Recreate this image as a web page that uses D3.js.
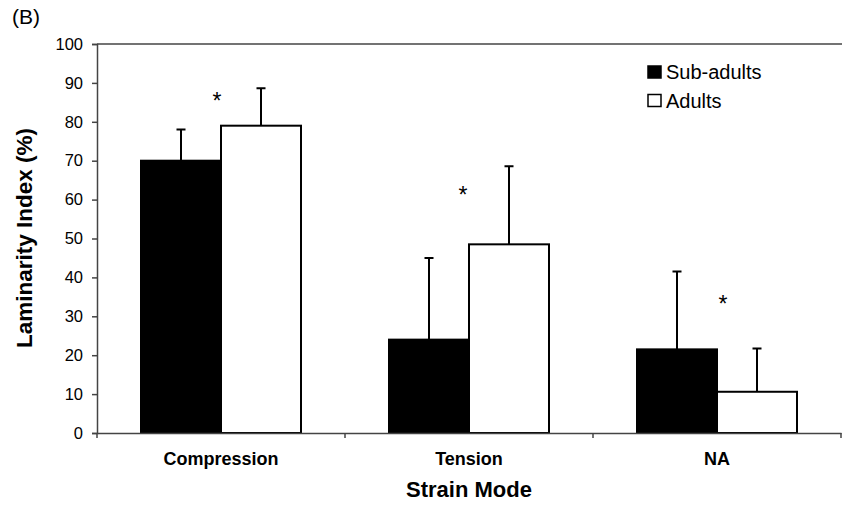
<!DOCTYPE html>
<html>
<head>
<meta charset="utf-8">
<script src="https://cdn.jsdelivr.net/npm/d3@7"></script>
<style>
  body { margin: 0; background: #fff; }
  svg { font-family: "Liberation Sans", Arial, sans-serif; display: block; }
</style>
</head>
<body>
<svg id="chart"></svg>
<script>
// data
var categories = ["Compression", "Tension", "NA"];
var seriesNames = ["Sub-adults", "Adults"];
var subAdults = [70, 24, 21.5];
var subAdultsErr = [78, 45, 41.5];
var adults = [79, 48.5, 10.6];
var adultsErr = [88.6, 68.6, 21.7];
var starLevel = [86, 62, 34];
var yTicks = [0, 10, 20, 30, 40, 50, 60, 70, 80, 90, 100];

var W = 842, H = 506;
var margin = {top: 44, right: 1, bottom: 73, left: 97},
    width = W - margin.left - margin.right,
    height = H - margin.top - margin.bottom;

var svg = d3.select("#chart")
    .attr("width", W)
    .attr("height", H);

var chart = svg.append("g")
    .attr("transform", "translate(" + margin.left + "," + margin.top + ")");

var x = d3.scaleBand()
    .domain(categories)
    .range([0, width])
    .paddingInner(0)
    .paddingOuter(0);

var inner = d3.scaleBand()
    .domain(seriesNames)
    .range([44, x.bandwidth() - 44]);

var y = d3.scaleLinear()
    .domain([0, 100])
    .range([height, 0]);

var rows = categories.map(function(c, i) {
  return {
    cat: c,
    star: starLevel[i],
    bars: [
      {s: "Sub-adults", v: subAdults[i], e: subAdultsErr[i], fill: "#000"},
      {s: "Adults", v: adults[i], e: adultsErr[i], fill: "#fff"}
    ]
  };
});

// top border
chart.append("line")
    .attr("x1", 0).attr("x2", width + 1)
    .attr("y1", 0).attr("y2", 0)
    .attr("stroke", "#444").attr("stroke-width", 1.5);

var groups = chart.selectAll(".grp")
    .data(rows)
  .enter().append("g")
    .attr("class", "grp")
    .attr("transform", function(d) { return "translate(" + x(d.cat) + ",0)"; });

// error bars (drawn before bars so the stem starts at bar top)
groups.selectAll(".err")
    .data(function(d) { return d.bars; })
  .enter().append("path")
    .attr("class", "err")
    .attr("fill", "none")
    .attr("stroke", "#000")
    .attr("stroke-width", 2)
    .attr("d", function(d) {
      var cx = inner(d.s) + inner.bandwidth() / 2;
      return "M" + cx + "," + y(d.v) + "V" + y(d.e) +
             "M" + (cx - 4.5) + "," + y(d.e) + "H" + (cx + 4.5);
    });

groups.selectAll(".bar")
    .data(function(d) { return d.bars; })
  .enter().append("rect")
    .attr("class", "bar")
    .attr("x", function(d) { return inner(d.s); })
    .attr("width", inner.bandwidth())
    .attr("y", function(d) { return y(d.v); })
    .attr("height", function(d) { return height - y(d.v); })
    .attr("fill", function(d) { return d.fill; })
    .attr("stroke", "#000")
    .attr("stroke-width", 2);

// significance stars
var starShift = [-4, -6, 6];
groups.append("text")
    .attr("x", function(d, i) { return x.bandwidth() / 2 + starShift[i]; })
    .attr("y", function(d) { return y(d.star) + 11; })
    .attr("text-anchor", "middle")
    .style("font-size", "23px")
    .text("*");

// axes
var yAxis = chart.append("g")
    .call(d3.axisLeft(y).tickValues(yTicks).tickSize(5).tickPadding(9));
yAxis.selectAll("text").style("font-size", "16.5px").attr("fill", "#000");
yAxis.select(".domain").attr("stroke", "#444").attr("stroke-width", 1.5);
yAxis.selectAll(".tick line").attr("stroke", "#444").attr("stroke-width", 1.5);

var xAxis = chart.append("g")
    .attr("transform", "translate(0," + height + ")")
    .call(d3.axisBottom(x).tickSize(0).tickPadding(19));
xAxis.select(".domain").attr("stroke", "#444").attr("stroke-width", 1.5);
xAxis.selectAll("text")
    .style("font-size", "18px")
    .style("font-weight", "bold")
    .attr("fill", "#000");

// x boundary ticks between groups
chart.append("g")
    .selectAll("line")
    .data(categories.concat(["end"]))
  .enter().append("line")
    .attr("x1", function(d, i) { return i * x.bandwidth(); })
    .attr("x2", function(d, i) { return i * x.bandwidth(); })
    .attr("y1", height).attr("y2", height + 5)
    .attr("stroke", "#444").attr("stroke-width", 1.5);

// titles
svg.append("text")
    .attr("x", margin.left + width / 2)
    .attr("y", 497)
    .attr("text-anchor", "middle")
    .style("font-size", "22px")
    .style("font-weight", "bold")
    .text("Strain Mode");

svg.append("text")
    .attr("transform", "translate(32,238) rotate(-90)")
    .attr("text-anchor", "middle")
    .style("font-size", "22.5px")
    .style("font-weight", "bold")
    .text("Laminarity Index (%)");

svg.append("text")
    .attr("x", 12).attr("y", 24)
    .style("font-size", "21px")
    .text("(B)");

// legend
var legend = svg.append("g")
    .attr("transform", "translate(648,66)");
var li = legend.selectAll("g")
    .data(rows[0].bars)
  .enter().append("g")
    .attr("transform", function(d, i) { return "translate(0," + i * 28.5 + ")"; });
li.append("rect")
    .attr("width", 13).attr("height", 12)
    .attr("fill", function(d) { return d.fill; })
    .attr("stroke", "#000").attr("stroke-width", 1.5);
li.append("text")
    .attr("x", 18).attr("y", 13)
    .style("font-size", "20px")
    .text(function(d) { return d.s; });
</script>
</body>
</html>
